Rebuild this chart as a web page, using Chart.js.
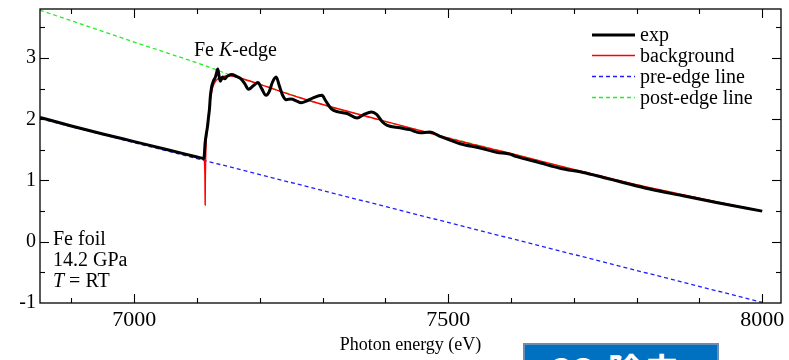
<!DOCTYPE html>
<html><head><meta charset="utf-8">
<script src="https://cdn.jsdelivr.net/npm/chart.js@4/dist/chart.umd.min.js"></script>
<style>
html,body{margin:0;padding:0;background:#fff;overflow:hidden;}
#wrap{position:relative;width:789px;height:360px;overflow:hidden;}
canvas{display:block;}
#badge{position:absolute;left:523px;top:343px;width:196px;height:40px;background:#0070c0;border:2px solid #6b8db5;color:#fff;font-family:"Noto Sans CJK JP";font-weight:bold;font-size:36px;line-height:36px;padding-left:22px;padding-top:6px;box-sizing:border-box;white-space:nowrap;overflow:hidden;}
</style></head><body>
<div id="wrap"><canvas id="c" width="789" height="360"></canvas><div id="badge">CO₂除去</div></div>
<script>
// ---- data ----
const expE  = [6850,6900,6950,7000,7050,7080,7100,7108,7111,7113,7115,7117,7118,7120,7121,7123,7126,7129,7131,7133,7135,7137,7141,7144,7148,7155,7163,7170,7176,7182,7190,7197,7203,7210,7215,7220,7226,7231,7236,7242,7250,7258,7266,7275,7285,7299,7305,7314,7325,7340,7355,7366,7378,7386,7395,7403,7423,7439,7455,7471,7487,7503,7519,7551,7577,7598,7609,7646,7678,7715,7747,7774,7821,7874,7927,8000];
const expMu = [2.03,1.89,1.76,1.635,1.51,1.435,1.385,1.365,1.36,1.62,1.77,1.90,2.00,2.18,2.34,2.51,2.62,2.68,2.75,2.82,2.72,2.62,2.69,2.66,2.70,2.73,2.70,2.66,2.58,2.49,2.55,2.60,2.50,2.39,2.45,2.60,2.69,2.55,2.40,2.32,2.33,2.30,2.27,2.30,2.35,2.39,2.30,2.17,2.12,2.09,2.02,2.08,2.12,2.08,1.96,1.90,1.86,1.83,1.78,1.79,1.72,1.66,1.60,1.53,1.46,1.43,1.39,1.29,1.20,1.13,1.05,0.98,0.86,0.75,0.64,0.50];

const bgE  = [7100,7108,7111,7112,7112.8,7113.0,7113.2,7114,7116,7118,7121,7125,7130,7140,7152,7170,7200,7264,7300,7391,7450,7519,7600,7700,7800,7900,8000];
const bgMu = [1.385,1.365,1.36,1.30,0.95,0.60,0.95,1.45,1.85,2.05,2.30,2.52,2.63,2.69,2.71,2.67,2.57,2.35,2.24,1.99,1.83,1.64,1.44,1.18,0.93,0.71,0.50];

const preE  = [6850,8000];
const preMu = [2.01,-0.99];

const postE  = [6850,7000,7133,7150,7200,7300,7450,7600,7750,7900,8000];
const postMu = [3.78,3.26,2.80,2.73,2.57,2.24,1.83,1.44,1.05,0.71,0.50];

const seriesNames = ['exp','background','pre-edge line','post-edge line'];
const xTickValues = [7000,7500,8000];
const yTickValues = [-1,0,1,2,3];
const xMinorTicks = [6900,7000,7100,7200,7300,7400,7500,7600,7700,7800,7900,8000];
const yMinorTicks = [-0.5,0,0.5,1,1.5,2,2.5,3,3.5];

const colors = ['#000000','#ff0000','#2020ff','#22ee22'];
const serif = '"Liberation Serif", serif';
Chart.defaults.font.family = serif;
Chart.defaults.color = '#000';

function pts(xs, ys){ return xs.map((v,i)=>({x:v,y:ys[i]})); }

const deco = {
  id:'deco',
  afterDatasetsDraw(chart){
    const {ctx, chartArea:a, scales:{x,y}} = chart;
    ctx.save();
    ctx.strokeStyle='#000'; ctx.lineWidth=1.3; ctx.setLineDash([]);
    ctx.strokeRect(a.left, a.top, a.right-a.left, a.bottom-a.top);
    const seg=(x1,y1,x2,y2)=>{ctx.beginPath();ctx.moveTo(x1,y1);ctx.lineTo(x2,y2);ctx.stroke();};
    ctx.lineWidth=1.1;
    xMinorTicks.forEach(v=>{
      const p = Math.round(x.getPixelForValue(v))+0.5;
      const L = xTickValues.includes(v)?9:5;
      seg(p,a.bottom,p,a.bottom-L); seg(p,a.top,p,a.top+L);
    });
    yMinorTicks.forEach(v=>{
      const p = Math.round(y.getPixelForValue(v))+0.5;
      const L = yTickValues.includes(v)?9:5;
      seg(a.left,p,a.left+L,p); seg(a.right,p,a.right-L,p);
    });
    // legend
    const rows=[35,55.5,76.5,97.5];
    const dashes=[[],[],[4,3],[4,3]];
    const widths=[3,1.5,1.3,1.3];
    ctx.font='20px '+serif; ctx.fillStyle='#000'; ctx.textBaseline='alphabetic'; ctx.textAlign='left';
    seriesNames.forEach((n,i)=>{
      ctx.strokeStyle=colors[i]; ctx.lineWidth=widths[i]; ctx.setLineDash(dashes[i]);
      seg(592,rows[i],635,rows[i]);
      ctx.setLineDash([]);
      ctx.fillText(n,640,rows[i]+6);
    });
    // annotations
    let cx=194;
    const put=(t,italic)=>{ctx.font=(italic?'italic ':'')+'20px '+serif; ctx.fillText(t,cx,56); cx+=ctx.measureText(t).width;};
    put('Fe ',false); put('K',true); put('-edge',false);
    ctx.font='20px '+serif;
    ctx.fillText('Fe foil',53,245);
    ctx.fillText('14.2 GPa',53,266);
    ctx.font='italic 20px '+serif; ctx.fillText('T',53,287);
    const tw=ctx.measureText('T').width;
    ctx.font='20px '+serif; ctx.fillText(' = RT',53+tw,287);
    // axis title
    ctx.font='18px '+serif; ctx.textAlign='center';
    ctx.fillText('Photon energy (eV)',(a.left+a.right)/2,350);
    ctx.restore();
  }
};

new Chart(document.getElementById('c'),{
  type:'scatter',
  data:{datasets:[
    {label:seriesNames[0],data:pts(expE,expMu),borderColor:colors[0],borderWidth:3,showLine:true,pointRadius:0,cubicInterpolationMode:'monotone'},
    {label:seriesNames[1],data:pts(bgE,bgMu),borderColor:colors[1],borderWidth:1.5,showLine:true,pointRadius:0,cubicInterpolationMode:'monotone'},
    {label:seriesNames[2],data:pts(preE,preMu),borderColor:colors[2],borderWidth:1.3,borderDash:[4,3],showLine:true,pointRadius:0},
    {label:seriesNames[3],data:pts(postE,postMu),borderColor:colors[3],borderWidth:1.3,borderDash:[4,3],showLine:true,pointRadius:0,cubicInterpolationMode:'monotone'}
  ]},
  options:{
    responsive:false, animation:false,
    layout:{padding:{left:0,right:8,top:9,bottom:0}},
    plugins:{legend:{display:false},tooltip:{enabled:false}},
    scales:{
      x:{type:'linear',min:6850,max:8030,
        grid:{display:false,drawTicks:false},border:{display:false},
        afterBuildTicks:s=>{s.ticks=xTickValues.map(v=>({value:v}));},
        afterFit:s=>{s.height=57; s.paddingLeft=0; s.paddingRight=0;},
        ticks:{font:{family:serif,size:22},color:'#000',padding:4,maxRotation:0,autoSkip:false,callback:v=>String(v)}},
      y:{type:'linear',min:-1,max:3.8,
        grid:{display:false,drawTicks:false},border:{display:false},
        afterBuildTicks:s=>{s.ticks=yTickValues.map(v=>({value:v}));},
        afterFit:s=>{s.width=40; s.paddingTop=0; s.paddingBottom=0;},
        ticks:{font:{family:serif,size:20},color:'#000',padding:4,autoSkip:false,callback:v=>String(v)}}
    }
  },
  plugins:[deco]
});
</script>
</body></html>
